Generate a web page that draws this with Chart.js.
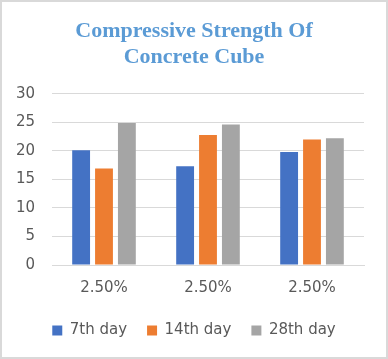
<!DOCTYPE html>
<html>
<head>
<meta charset="utf-8">
<script src="https://cdn.jsdelivr.net/npm/chart.js@4/dist/chart.umd.min.js"></script>
<style>
  html, body { margin: 0; padding: 0; background: #fff; }
  #wrap { width: 384px; height: 355px; border: 2px solid #d9d9d9; position: relative; }
</style>
</head>
<body>
<div id="wrap"><canvas id="strengthChart"></canvas></div>
<script>
// data
const categories = ['2.50%', '2.50%', '2.50%'];
const day7 = [20.1, 17.3, 19.8];
const day14 = [16.9, 22.8, 22.0];
const day28 = [24.9, 24.6, 22.2];
const seriesNames = ['7th day', '14th day', '28th day'];
const yTicks = [0, 5, 10, 15, 20, 25, 30];

const colors = ['#4472C4', '#ED7D31', '#A5A5A5'];
const textFont = { family: 'DejaVu Sans', size: 15 };

const ctx = document.getElementById('strengthChart').getContext('2d');
new Chart(ctx, {
  type: 'bar',
  data: {
    labels: categories,
    datasets: [day7, day14, day28].map((vals, i) => ({
      label: seriesNames[i],
      data: vals,
      backgroundColor: colors[i],
      barPercentage: 0.78,
      categoryPercentage: 0.66
    }))
  },
  options: {
    responsive: true,
    maintainAspectRatio: false,
    animation: false,
    layout: { padding: { left: 0, right: 0, top: 8, bottom: 9 } },
    plugins: {
      title: {
        display: true,
        text: ['Compressive Strength Of', 'Concrete Cube'],
        color: '#5B9BD5',
        font: { family: 'Liberation Serif', size: 22, weight: 'bold', lineHeight: 1.2 },
        padding: { top: 8, bottom: 23 }
      },
      legend: {
        position: 'bottom',
        labels: {
          boxWidth: 10,
          boxHeight: 10,
          color: '#595959',
          font: textFont,
          padding: 20
        }
      },
      tooltip: { enabled: false }
    },
    scales: {
      x: {
        grid: { display: false },
        border: { color: '#d9d9d9', width: 1 },
        ticks: { color: '#595959', font: textFont, padding: 6 }
      },
      y: {
        min: 0,
        max: 30,
        afterBuildTicks: axis => { axis.ticks = yTicks.map(v => ({ value: v })); },
        afterFit: axis => { axis.width = 50; },
        grid: { color: '#d9d9d9', lineWidth: 1, drawTicks: false },
        border: { display: false },
        ticks: { color: '#595959', font: textFont, padding: 17 }
      },
      // empty right-hand strip so the plot stops short of the frame
      yRight: {
        position: 'right',
        min: 0,
        max: 30,
        afterFit: axis => { axis.width = 22; },
        grid: { display: false },
        border: { display: false },
        ticks: { display: false }
      }
    }
  }
});
</script>
</body>
</html>
